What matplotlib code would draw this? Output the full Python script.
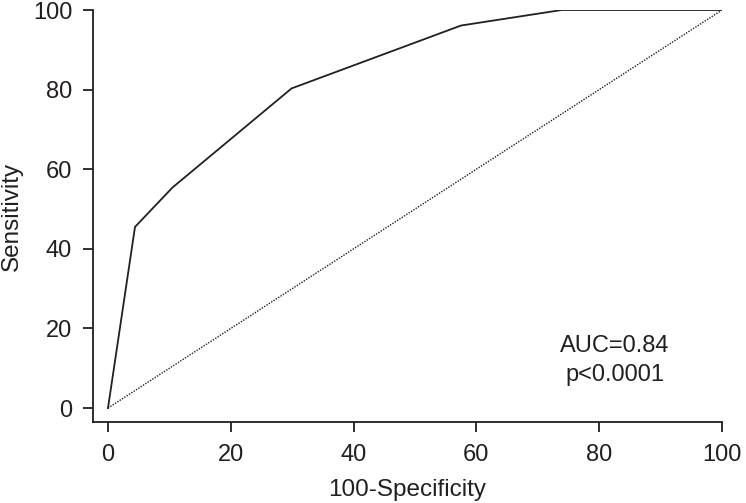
import matplotlib
matplotlib.use("Agg")
import matplotlib.pyplot as plt

fpr = [0, 4.4, 10.5, 29.9, 57.5, 73.9, 100]
tpr = [0, 45.5, 55.4, 80.3, 96.1, 100, 100]
diag_x = [0, 100]
diag_y = [0, 100]
xticks = [0, 20, 40, 60, 80, 100]
yticks = [0, 20, 40, 60, 80, 100]

plt.rcParams['font.family'] = ['Liberation Sans', 'DejaVu Sans']
c = '#231f20'
fs = 17
fig = plt.figure(figsize=(7.46, 5.03), dpi=100)
ax = fig.add_axes([93/746, 1-422/503, (722-93)/746, (422-10)/503])
ax.plot(fpr, tpr, color=c, lw=1.3, solid_joinstyle='miter')
ax.plot(diag_x, diag_y, color=c, lw=1.0, ls=(0, (1, 1)))
ax.set_xlim(-2.44, 100)
ax.set_ylim(-3.5, 100)
for s in ['top', 'right']:
    ax.spines[s].set_visible(False)
for s in ['left', 'bottom']:
    ax.spines[s].set_color(c)
    ax.spines[s].set_linewidth(1.3)
ax.set_xticks(xticks)
ax.set_yticks(yticks)
ax.tick_params(direction='out', length=7, width=1.3, color=c, labelsize=fs, labelcolor=c)
ax.tick_params(axis='x', pad=9)
ax.tick_params(axis='y', pad=8)
ax.set_xlabel('100-Specificity', fontsize=17.5, color=c, labelpad=9)
ax.set_ylabel('Sensitivity', fontsize=17.5, color=c, labelpad=7)
ax.text(82.6, 14.1, 'AUC=0.84', ha='center', va='baseline', fontsize=fs, color=c)
ax.text(82.6, 6.8, 'p<0.0001', ha='center', va='baseline', fontsize=fs, color=c)
ax.patch.set_visible(False)
fig.savefig('out.png', dpi=100)
